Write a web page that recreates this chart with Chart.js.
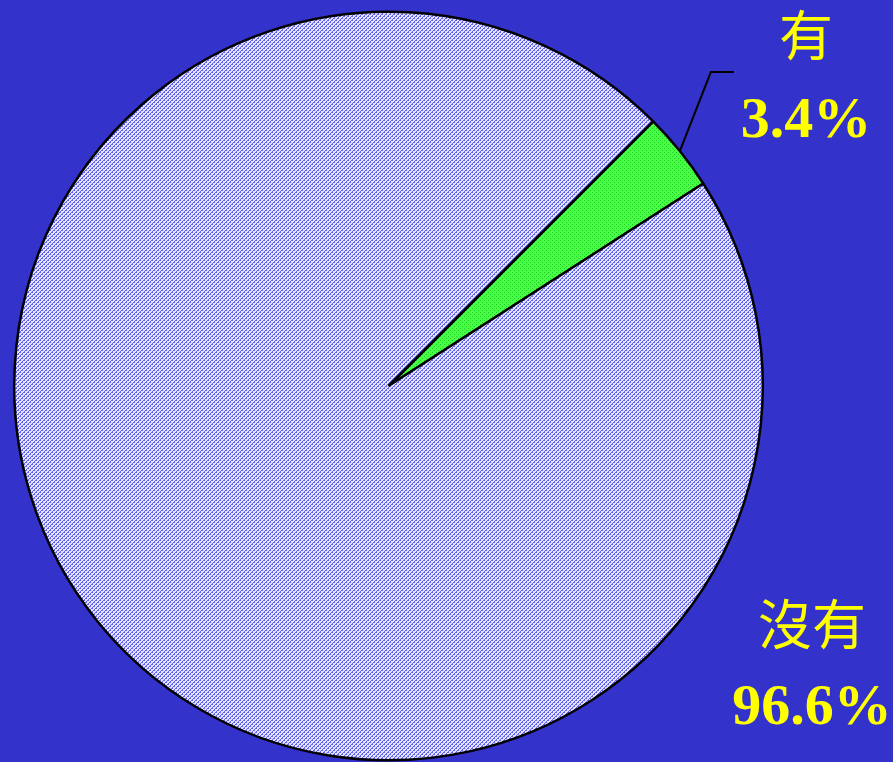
<!DOCTYPE html>
<html>
<head>
<meta charset="utf-8">
<script src="https://cdn.jsdelivr.net/npm/chart.js@4/dist/chart.umd.min.js"></script>
<style>
  html, body { margin: 0; padding: 0; background: #3333cc; }
  canvas { display: block; }
</style>
</head>
<body>
<canvas id="c" width="893" height="762"></canvas>
<script>
const categories = ['有', '沒有'];
const percentValues = [3.4, 96.6];
const valueLabels = ['3.4%', '96.6%'];

function makePattern(base, dot, cells) {
  const t = document.createElement('canvas');
  t.width = 4; t.height = 4;
  const g = t.getContext('2d');
  g.fillStyle = base; g.fillRect(0, 0, 4, 4);
  g.fillStyle = dot;
  cells.forEach(([x, y]) => g.fillRect(x, y, 1, 1));
  return document.getElementById('c').getContext('2d').createPattern(t, 'repeat');
}
// lavender diagonal hatch
const hatch = makePattern('#e4e4ff', '#6262f2', [[0,3],[1,2],[2,1],[3,0],[2,2],[0,0]]);
// green dotted
const greenPat = makePattern('#44ff44', '#26c826', [[0,0],[2,2]]);

const labelPlugin = {
  id: 'pieLabels',
  afterDraw(chart) {
    const ctx = chart.ctx;
    const arcs = chart.getDatasetMeta(0).data;
    const a0 = arcs[0];
    const mid = (a0.startAngle + a0.endAngle) / 2;
    const sx = a0.x + Math.cos(mid) * a0.outerRadius;
    const sy = a0.y + Math.sin(mid) * a0.outerRadius;
    ctx.save();
    // leader line for small slice
    ctx.strokeStyle = '#000';
    ctx.lineWidth = 2;
    ctx.beginPath();
    ctx.moveTo(sx, sy);
    ctx.lineTo(sx + 31, sy - 79);
    ctx.lineTo(sx + 54, sy - 79);
    ctx.stroke();

    ctx.fillStyle = '#ffff00';
    ctx.textAlign = 'center';
    // small slice label
    ctx.font = '54px "Liberation Serif", "Noto Sans CJK TC", serif';
    ctx.textBaseline = 'middle';
    ctx.fillText(categories[0], 806, 42);
    ctx.font = 'bold 58px "Liberation Serif", serif';
    ctx.textBaseline = 'alphabetic';
    ctx.fillText(valueLabels[0], 806, 137);
    // large slice label
    ctx.font = '54px "Liberation Serif", "Noto Sans CJK TC", serif';
    ctx.textBaseline = 'middle';
    ctx.fillText(categories[1], 812, 631);
    ctx.font = 'bold 58px "Liberation Serif", serif';
    ctx.textBaseline = 'alphabetic';
    ctx.fillText(valueLabels[1], 812, 724);
    ctx.restore();
  }
};

new Chart(document.getElementById('c'), {
  type: 'pie',
  data: {
    labels: categories,
    datasets: [{
      data: percentValues,
      backgroundColor: [greenPat, hatch],
      borderColor: '#000000',
      borderWidth: 2.5,
      borderAlign: 'center'
    }]
  },
  options: {
    responsive: false,
    animation: false,
    rotation: 45,
    layout: { padding: { left: 13, right: 129, top: 10, bottom: 0 } },
    plugins: {
      legend: { display: false },
      tooltip: { enabled: false }
    }
  },
  plugins: [labelPlugin]
});
</script>
</body>
</html>
